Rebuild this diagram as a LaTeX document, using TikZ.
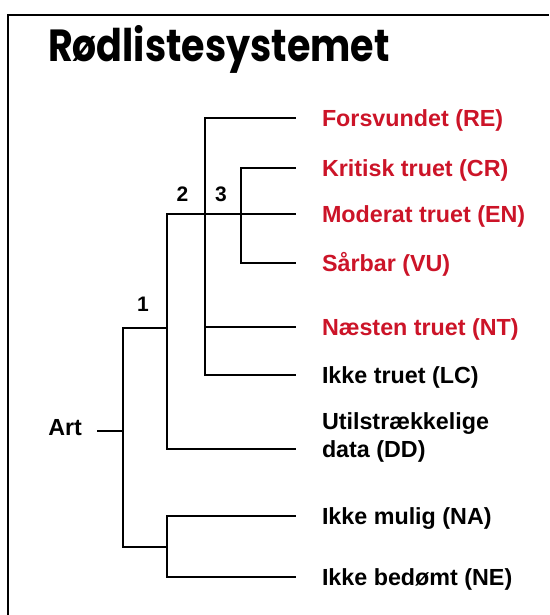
\documentclass[tikz,border=0pt]{standalone}
\usepackage{fontspec}
\setmainfont{Liberation Sans}
\newfontfamily\titlefont{Poppins}
\usetikzlibrary{positioning}

\definecolor{rodred}{RGB}{204,20,40}

\tikzset{
  branch/.style={line width=1.6pt, black},
  leaf/.style={anchor=west, inner xsep=0pt, outer xsep=26pt, align=left,
    text height=16.5pt, text depth=0pt,
    font=\fontsize{23.3}{28}\selectfont\bfseries},
  redleaf/.style={leaf, text=rodred},
  num/.style={anchor=south east, inner sep=0pt,
    font=\fontsize{21}{24}\selectfont\bfseries},
}

\begin{document}
\begin{tikzpicture}[x=1pt,y=-1pt] %Roedlistesystemet
            \useasboundingbox (0,0) rectangle (549,615);
            \fill[white] (0,0) rectangle (549,615);

            % ramme
            \draw[line width=2pt] (8,615) -- (8,15) -- (549,15);

            \node[anchor=base west, inner sep=0pt, font=\titlefont\bfseries\fontsize{45}{50}\selectfont]
                (title) at (48,62) {\scalebox{0.845}[1]{Rødlistesystemet}};

            % forgreningspunkter
            \coordinate (root) at (123,431);
            \coordinate (J1) at (167,328);
            \coordinate (J2) at (205,214);
            \coordinate (J3) at (241,214);
            \coordinate (J4) at (167,547);

            % kategorier
            \node[redleaf] (re) at (296,118) {Forsvundet (RE)};
            \node[redleaf] (cr) at (296,168) {Kritisk truet (CR)};
            \node[redleaf] (en) at (296,214) {Moderat truet (EN)};
            \node[redleaf] (vu) at (296,263) {Sårbar (VU)};
            \node[redleaf] (nt) at (296,327) {Næsten truet (NT)};
            \node[leaf] (lc) at (296,375) {Ikke truet (LC)};
            \node[leaf] (dd) at (296,449) {Utilstrækkelige\\data (DD)};
            \node[leaf] (na) at (296,516) {Ikke mulig (NA)};
            \node[leaf] (ne) at (296,577) {Ikke bedømt (NE)};

            \node[leaf, anchor=east, outer xsep=15pt, text depth=7pt] (art) at (97,431) {Art};

            % grene
            \draw[branch] (art) -- (root);
            \draw[branch] (root) |- (J1);
            \draw[branch] (root) |- (J4);

            \draw[branch] (J1) |- (en);
            \draw[branch] (J1) |- (dd);

            \draw[branch] (J2) |- (re);
            \draw[branch] (J2) |- (nt);
            \draw[branch] (J2) |- (lc);

            \draw[branch] (J3) |- (cr);
            \draw[branch] (J3) |- (vu);

            \draw[branch] (J4) |- (na);
            \draw[branch] (J4) |- (ne);

            % niveauer
            \node[num] (n1) at ([shift={(-18,-16.5)}]J1) {1};
            \node[num] (n2) at ([shift={(-16.5,-12.5)}]J2) {2};
            \node[num] (n3) at ([shift={(-14,-12.5)}]J3) {3};
        \end{tikzpicture}
\end{document}
